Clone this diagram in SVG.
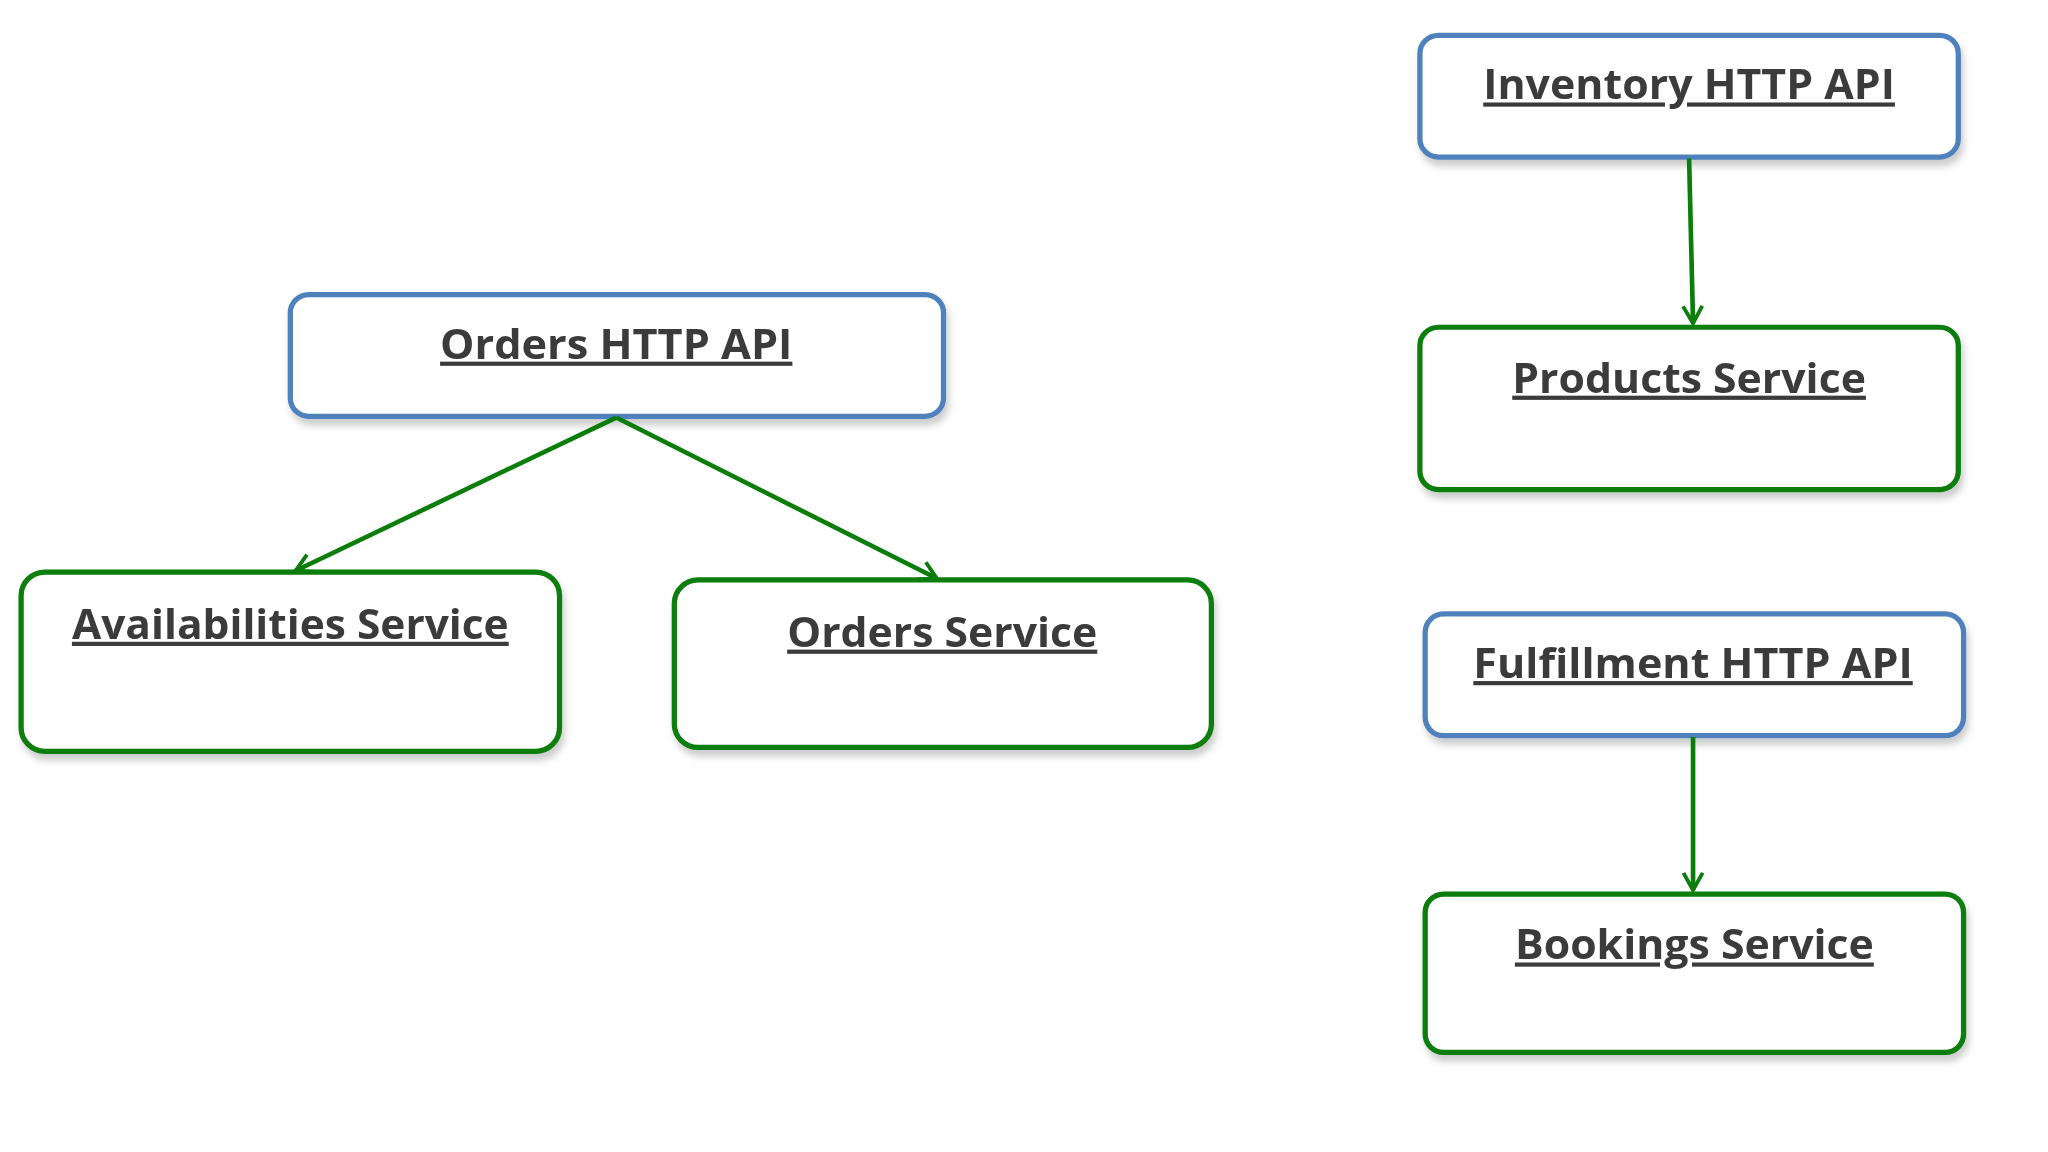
<svg xmlns="http://www.w3.org/2000/svg" width="2048" height="1152" viewBox="0 0 2048 1152">
<defs>
<style>
.b{fill:#fff;stroke:#4f81bd;stroke-width:4}
.g{fill:#fff;stroke:#0a7d0a;stroke-width:4}
.t{font-family:"Open Sans","Liberation Sans",sans-serif;font-weight:bold;font-size:32px;fill:#3b3b3b;text-anchor:middle;text-decoration:underline}
.c{stroke:#0a7d0a;stroke-width:3.5;fill:none;marker-end:url(#a)}
</style>
<marker id="a" viewBox="0 0 12 12" refX="10" refY="6" markerWidth="5" markerHeight="5" orient="auto" markerUnits="strokeWidth"><path d="M1,1 L10,6 L1,11" fill="none" stroke="#0a7d0a" stroke-width="2"/></marker>
<filter id="s" x="-5%" y="-5%" width="115%" height="125%"><feDropShadow dx="2" dy="5" stdDeviation="3" flood-color="#000" flood-opacity="0.2"/></filter>
</defs>
<rect width="2048" height="1152" fill="#fff"/>
<g transform="scale(1.3196,1.309)">
<g id="inventory" filter="url(#s)"><rect class="b" x="1076" y="27" width="408" height="93" rx="14"/><text class="t" x="1280" y="76" textLength="312" lengthAdjust="spacingAndGlyphs">Inventory HTTP API</text></g>
<g id="products" filter="url(#s)"><rect class="g" x="1076" y="250" width="408" height="124" rx="14"/><text class="t" x="1280" y="300" textLength="268" lengthAdjust="spacingAndGlyphs">Products Service</text></g>
<g id="fulfillment" filter="url(#s)"><rect class="b" x="1080" y="469" width="408" height="93" rx="14"/><text class="t" x="1283" y="518" textLength="333" lengthAdjust="spacingAndGlyphs">Fulfillment HTTP API</text></g>
<g id="bookings" filter="url(#s)"><rect class="g" x="1080" y="683" width="408" height="121" rx="14"/><text class="t" x="1284" y="733" textLength="272" lengthAdjust="spacingAndGlyphs">Bookings Service</text></g>
<g id="ordersapi" filter="url(#s)"><rect class="b" x="220" y="225" width="495" height="93" rx="14"/><text class="t" x="467" y="274" textLength="267" lengthAdjust="spacingAndGlyphs">Orders HTTP API</text></g>
<g id="availabilities" filter="url(#s)"><rect class="g" x="16" y="437" width="408" height="137" rx="18"/><text class="t" x="220" y="488" textLength="331" lengthAdjust="spacingAndGlyphs">Availabilities Service</text></g>
<g id="orders" filter="url(#s)"><rect class="g" x="511" y="443" width="407" height="128" rx="18"/><text class="t" x="714" y="494" textLength="235" lengthAdjust="spacingAndGlyphs">Orders Service</text></g>
<g id="connectors">
<line class="c" x1="1280" y1="121" x2="1283" y2="247"/>
<line class="c" x1="1283" y1="563" x2="1283" y2="680"/>
<line class="c" x1="467" y1="319" x2="224" y2="436"/>
<line class="c" x1="467" y1="319" x2="710" y2="442"/>
</g>
</g>
</svg>
